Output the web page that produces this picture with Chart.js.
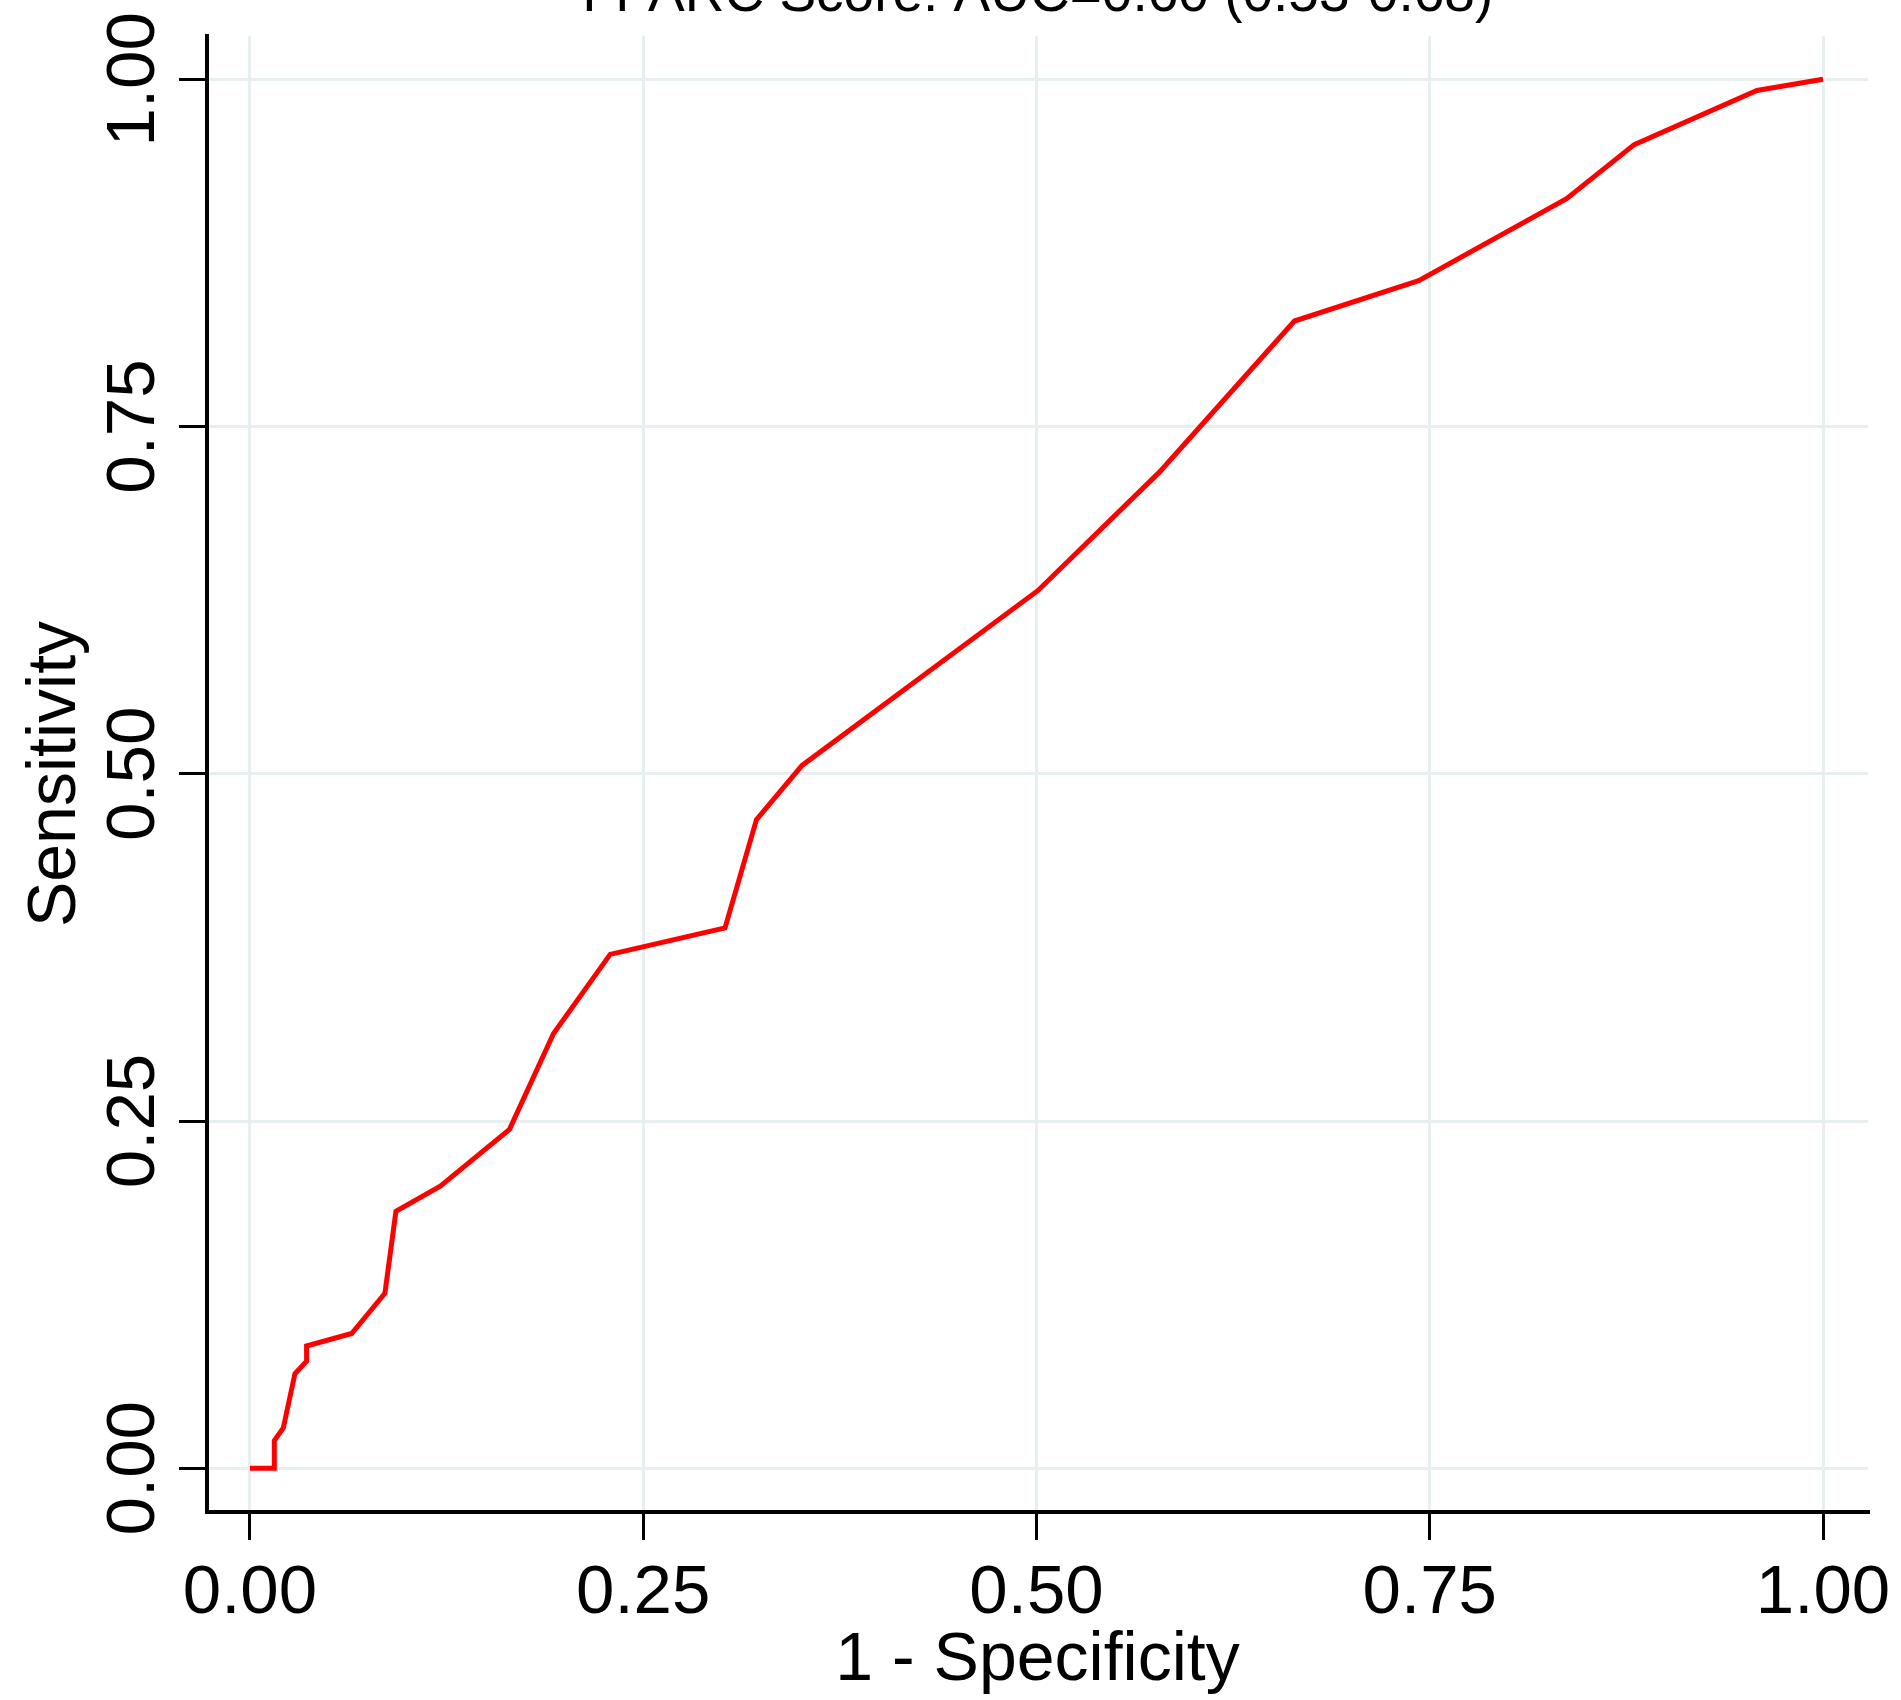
<!DOCTYPE html>
<html>
<head>
<meta charset="utf-8">
<script src="https://cdn.jsdelivr.net/npm/chart.js"></script>
<style>
    html, body { margin: 0; padding: 0; background: #fff; overflow: hidden; }
    #wrap { position: absolute; left: 0; top: -60px; width: 1901px; height: 1760px; }
</style>
</head>
<body>
<div id="wrap"><canvas id="roc-chart"></canvas></div>
<script>
const chartTitle = 'I-PARC Score: AUC=0.60 (0.53-0.68)';
const xAxisTitle = '1 - Specificity';
const yAxisTitle = 'Sensitivity';
const tickValues = [0, 0.25, 0.5, 0.75, 1];
const tickLabels = ['0.00', '0.25', '0.50', '0.75', '1.00'];

// ROC curve
const oneMinusSpecificity = [0, 0.0155, 0.0155, 0.0212, 0.0286, 0.036, 0.036, 0.0647, 0.0858, 0.0928, 0.121, 0.165, 0.193, 0.229, 0.302, 0.322, 0.351, 0.501, 0.578, 0.664, 0.743, 0.837, 0.880, 0.958, 1.0];
const sensitivity = [0, 0, 0.020, 0.029, 0.068, 0.077, 0.088, 0.097, 0.126, 0.185, 0.203, 0.244, 0.313, 0.370, 0.389, 0.467, 0.506, 0.632, 0.717, 0.826, 0.855, 0.914, 0.953, 0.992, 1.0];

const fontFamily = '"Liberation Sans", Arial, sans-serif';

document.addEventListener('DOMContentLoaded', () => {
    const canvas = document.getElementById('roc-chart');

    const points = oneMinusSpecificity.map((x, i) => ({ x: x, y: sensitivity[i] }));

    const setTicks = (scale) => {
        scale.ticks = tickValues.map(v => ({ value: v }));
    };

    // y tick labels are rotated like in the original, so drawn here
    const yTickLabelPlugin = {
        id: 'yTickLabels',
        afterDraw(chart) {
            const { ctx, chartArea } = chart;
            const yScale = chart.scales.y;
            ctx.save();
            ctx.fillStyle = '#000';
            ctx.font = '69px ' + fontFamily;
            ctx.textAlign = 'center';
            ctx.textBaseline = 'alphabetic';
            tickValues.forEach((value, index) => {
                ctx.save();
                ctx.translate(chartArea.left - 53, yScale.getPixelForValue(value));
                ctx.rotate(-Math.PI / 2);
                ctx.fillText(tickLabels[index], 0, 0);
                ctx.restore();
            });
            ctx.restore();
        }
    };

    const gridStyle = {
        color: '#e8eff1',
        lineWidth: 3,
        tickColor: '#000',
        tickLength: 28,
        tickWidth: 3
    };

    new Chart(canvas, {
        type: 'line',
        data: {
            datasets: [{
                data: points,
                borderColor: '#ff0000',
                borderWidth: 5,
                pointRadius: 0,
                tension: 0,
                fill: false
            }]
        },
        options: {
            responsive: true,
            maintainAspectRatio: false,
            animation: false,
            layout: {
                padding: { left: 0, right: 33, top: 0, bottom: 0 }
            },
            plugins: {
                legend: { display: false },
                tooltip: { enabled: false },
                title: {
                    display: true,
                    text: chartTitle,
                    fullSize: false,
                    color: '#000',
                    font: { family: fontFamily, size: 55, weight: 'normal', lineHeight: 1 },
                    padding: { top: 28, bottom: 13 }
                }
            },
            scales: {
                x: {
                    type: 'linear',
                    min: -0.0273,
                    max: 1.0286,
                    afterBuildTicks: setTicks,
                    afterFit: (scale) => {
                        scale.height = 188;
                        scale.paddingLeft = 0;
                        scale.paddingRight = 0;
                    },
                    grid: gridStyle,
                    border: { display: true, color: '#000', width: 4 },
                    ticks: {
                        color: '#000',
                        font: { family: fontFamily, size: 69 },
                        padding: 13,
                        maxRotation: 0,
                        autoSkip: false,
                        callback: (value, index) => tickLabels[index]
                    },
                    title: {
                        display: true,
                        text: xAxisTitle,
                        color: '#000',
                        font: { family: fontFamily, size: 68, lineHeight: 1 },
                        padding: { top: 0, bottom: 5 }
                    }
                },
                y: {
                    type: 'linear',
                    min: -0.0315,
                    max: 1.0312,
                    afterBuildTicks: setTicks,
                    afterFit: (scale) => {
                        scale.width = 207;
                    },
                    grid: gridStyle,
                    border: { display: true, color: '#000', width: 4 },
                    ticks: { display: false },
                    title: {
                        display: true,
                        text: yAxisTitle,
                        color: '#000',
                        font: { family: fontFamily, size: 68, lineHeight: 1 },
                        padding: { top: 22, bottom: 0 }
                    }
                }
            }
        },
        plugins: [yTickLabelPlugin]
    });
});
</script>
</body>
</html>
